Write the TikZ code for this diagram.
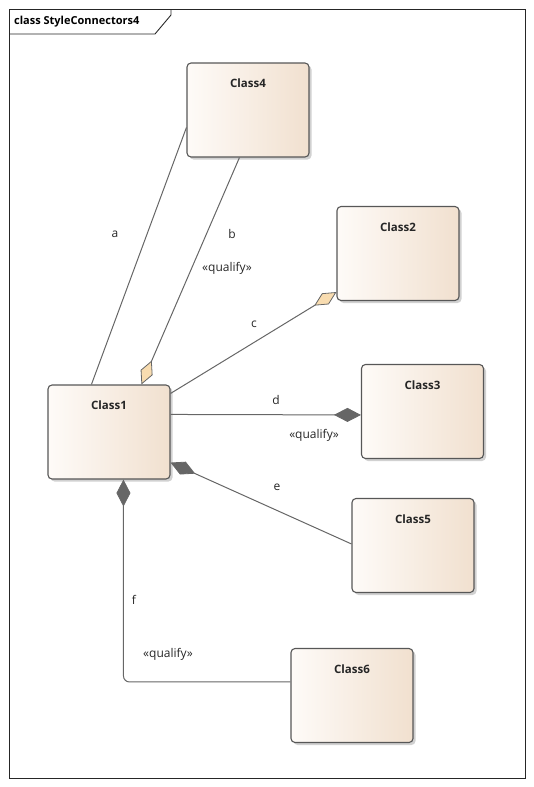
\documentclass[tikz,border=0pt]{standalone}
\usepackage{fontspec}
\setmainfont{Open Sans}
\usetikzlibrary{arrows.meta,shadows}

\definecolor{linegray}{HTML}{666666}
\definecolor{boxleft}{HTML}{FEFBF8}
\definecolor{boxright}{HTML}{F1E0CF}
\definecolor{aggfill}{HTML}{F8DCB0}

\tikzset{
  classbox/.style={draw=linegray!85!black, line width=1.1pt, rounded corners=4pt,
    minimum width=122pt, minimum height=94pt, left color=boxleft, right color=boxright,
    drop shadow={shadow xshift=2.5pt, shadow yshift=-2.5pt, fill=black!30, opacity=0.6},
    label={[anchor=north, yshift=-13pt, font=\fontsize{11.5}{13}\selectfont\bfseries, text=black!85]north:#1}},
  conn/.style={draw=linegray, line width=1pt},
  lbl/.style={font=\fontsize{12}{14}\selectfont, text=black!85, inner sep=1pt},
  shared/.style={-{Diamond[length=26pt, width=13pt, fill=aggfill, line width=0.8pt]}},
  composite/.style={-{Diamond[length=27pt, width=14pt, fill=linegray, line width=0.8pt]}}
}

\begin{document}
\begin{tikzpicture}[x=1pt, y=-1pt]
    \useasboundingbox (0,0) rectangle (534,787);
    % Frame
    \draw[line width=0.9pt, draw=black!85] (9,9) rectangle (525,778);
    \draw[line width=0.9pt, draw=black!85] (9,34) -- (155,34) -- (171,15) -- (171,9);
    \node[anchor=west, font=\fontsize{11}{13}\selectfont\bfseries, inner sep=0pt] (title) at (14,22) {class StyleConnectors4};
    % Classes
    \node[classbox=Class4] (c4) at (248,110) {};
    \node[classbox=Class2] (c2) at (398,253.5) {};
    \node[classbox=Class1] (c1) at (109,432) {};
    \node[classbox=Class3] (c3) at (422.5,411.5) {};
    \node[classbox=Class5] (c5) at (413,545.5) {};
    \node[classbox=Class6] (c6) at (352,695.5) {};
    % Connectors
    \draw[conn] ([xshift=44pt]c1.north west) -- ([yshift=-65pt]c4.north west);
    \draw[conn, shared] ([xshift=53pt]c4.south west) -- ([xshift=94pt]c1.north west);
    \draw[conn, shared] ([yshift=-9pt]c1.north east) -- ([yshift=9pt]c2.south west);
    \draw[conn, composite] ([yshift=-30pt]c1.north east) -- ([yshift=-51pt]c3.north west);
    \draw[conn, composite] ([yshift=-46pt]c5.north west) -- ([yshift=17pt]c1.south east);
    \draw[conn, composite, rounded corners=6pt] ([yshift=-34pt]c6.north west) -| ([xshift=76pt]c1.south west);
    % Labels
    \node[lbl] (la) at (115,234) {a};
    \node[lbl] (lb) at (232,234) {b};
    \node[lbl] (qb) at (227,268) {«qualify»};
    \node[lbl] (lc) at (254,324) {c};
    \node[lbl] (ld) at (276,400) {d};
    \node[lbl] (qd) at (314,435) {«qualify»};
    \node[lbl] (le) at (277,487) {e};
    \node[lbl] (lf) at (134,600) {f};
    \node[lbl] (qf) at (168,654) {«qualify»};
\end{tikzpicture}
\end{document}
